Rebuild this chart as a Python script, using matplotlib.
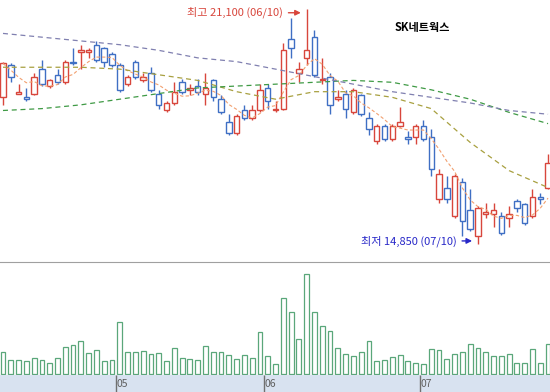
# SK네트웍스 일봉 차트 (캔들 + 이동평균 + 거래량)
import matplotlib.pyplot as plt
import numpy as np
import pandas as pd

plt.rcParams['font.family'] = ['Noto Sans CJK KR', 'DejaVu Sans']

# 시가, 고가, 저가, 종가 (원)
opens = [18750, 19600, 18850, 18750, 18850, 19500, 19050, 19350, 19150, 19700,
         19950, 19950, 20150, 20050, 19900, 19600, 19100, 19700, 19200, 19400,
         18850, 18400, 18600, 19150, 18950, 19050, 18850, 19200, 18700, 18100,
         17800, 18400, 18200, 18400, 19000, 18400, 18450, 20300, 19400, 19800,
         20350, 19200, 19300, 18700, 18850, 18350, 18800, 18200, 17600, 18000,
         17650, 18000, 17700, 17700, 18000, 17700, 16050, 16350, 15600, 16500,
         15750, 15050, 15650, 15650, 15600, 15550, 16000, 15900, 15600, 16100,
         16350]
highs = [19700, 19650, 19100, 19000, 19400, 19750, 19250, 19500, 19750, 20050,
         20150, 20050, 20250, 20100, 19950, 19650, 19350, 19750, 19400, 19550,
         18950, 18650, 19150, 19250, 19100, 19250, 19400, 19250, 18800, 18300,
         18300, 18550, 18550, 19100, 19100, 18650, 20200, 20850, 19700, 21100,
         20550, 19800, 19400, 18950, 18950, 19000, 18850, 18350, 18050, 18050,
         18050, 18500, 17850, 18050, 18150, 17900, 16850, 16650, 16700, 16600,
         16300, 15850, 15950, 15950, 15700, 15850, 16050, 15950, 16300, 16200,
         17250]
lows = [18550, 19150, 18850, 18650, 18800, 19050, 19000, 19100, 19100, 19600,
        19500, 19800, 19700, 19550, 19550, 18900, 19050, 19250, 19150, 18900,
        18450, 18350, 18550, 18850, 18800, 18800, 18550, 18650, 18300, 17750,
        17750, 18150, 18150, 18350, 18450, 18350, 18400, 19800, 19150, 19600,
        19300, 19100, 18300, 18650, 18200, 18300, 18250, 17750, 17500, 17600,
        17600, 17950, 17500, 17500, 17600, 16650, 15950, 15950, 15550, 15050,
        15200, 14850, 15550, 15300, 15100, 15300, 15700, 15350, 15550, 15900,
        16300]
closes = [19650, 19300, 18900, 18700, 19300, 19100, 19200, 19150, 19700, 19650,
          20000, 20000, 19750, 19700, 19600, 18950, 19300, 19300, 19300, 18950,
          18550, 18600, 18900, 18900, 19000, 18900, 19000, 18750, 18350, 17800,
          18250, 18200, 18400, 18950, 18650, 18450, 20000, 20050, 19500, 20000,
          19350, 19250, 18550, 18750, 18450, 18950, 18300, 17900, 18000, 17650,
          18000, 18100, 17650, 18000, 17650, 16850, 16700, 16050, 16650, 15450,
          15250, 15800, 15700, 15750, 15150, 15650, 15800, 15400, 16100, 16050,
          17000]
# 거래량 (천주)
volumes = [220, 140, 140, 130, 160, 140, 110, 160, 270, 290,
           330, 210, 240, 130, 140, 520, 220, 220, 230, 200,
           210, 130, 260, 160, 150, 140, 280, 220, 220, 190,
           150, 190, 160, 420, 180, 100, 760, 620, 350, 1000,
           620, 480, 430, 260, 200, 180, 220, 330, 130, 140,
           170, 190, 130, 110, 100, 250, 240, 150, 200, 220,
           300, 260, 220, 180, 180, 200, 110, 110, 250, 110,
           300]

# 장기 이동평균
ma_idx = [0, 5, 10, 15, 20, 25, 30, 35, 40, 45, 50, 55, 60, 65, 70]
ma20 = [19550, 19550, 19550, 19500, 19350, 19200, 18900, 18700, 18900, 18900,
        18750, 18450, 17550, 16800, 16350]
ma60 = [18400, 18450, 18550, 18700, 18850, 19000, 19050, 19100, 19150, 19200,
        19150, 18950, 18700, 18350, 18050]
ma120 = [20450, 20350, 20250, 20150, 20000, 19800, 19700, 19500, 19300, 19100,
         18900, 18750, 18600, 18400, 18300]

month_pos = [14.5, 33.5, 53.5]
month_labels = ['05', '06', '07']

RED = '#d8463c'
BLUE = '#3f6fc4'

fig = plt.figure(figsize=(5.5, 3.92), dpi=100)
ax = fig.add_axes([0, 1 - 261 / 392, 1, 261 / 392])
axv = fig.add_axes([0, 17 / 392, 1, 113 / 392])
axb = fig.add_axes([0, 0, 1, 17 / 392])

x = np.arange(len(closes))
o = np.array(opens)
c = np.array(closes)
colors = [RED if cc >= oo else BLUE for oo, cc in zip(o, c)]

# 캔들
ax.vlines(x, lows, highs, colors=colors, lw=1, zorder=2)
body = np.maximum(np.abs(c - o), 8)
ax.bar(x, body, bottom=np.minimum(o, c), width=0.7, facecolor='white',
       edgecolor=colors, linewidth=1, zorder=3)

# 이동평균선
ma5 = pd.Series(closes).rolling(5, min_periods=1).mean()
ax.plot(x, ma5, color='#f2a070', lw=0.8, ls=(0, (3, 2)), zorder=4)
ax.plot(ma_idx, ma20, color='#a8a040', lw=0.9, ls=(0, (4, 3)), zorder=4)
ax.plot(ma_idx, ma60, color='#3f9a45', lw=0.9, ls=(0, (4, 3)), zorder=4)
ax.plot(ma_idx, ma120, color='#8080b0', lw=0.9, ls=(0, (4, 3)), zorder=4)

xlim = (-0.385, 70.25)
ax.set_xlim(xlim)
ax.set_ylim(14396, 21339)
ax.axis('off')

# 최고/최저 표시
ax.text(36.0, 21000, '최고 21,100 (06/10)', ha='right', va='center',
        color=RED, fontsize=8)
ax.annotate('', xy=(38.6, 21000), xytext=(36.3, 21000),
            arrowprops=dict(arrowstyle='-|>', color=RED, lw=1, mutation_scale=8))
ax.text(58.3, 14930, '최저 14,850 (07/10)', ha='right', va='center',
        color='#2828c8', fontsize=8)
ax.annotate('', xy=(60.6, 14930), xytext=(58.6, 14930),
            arrowprops=dict(arrowstyle='-|>', color='#2828c8', lw=1, mutation_scale=8))
ax.text(53.9, 20620, 'SK네트웍스', ha='center', va='center',
        color='black', fontsize=8, fontweight='bold')

# 거래량
axv.bar(x, volumes, width=0.62, facecolor='white', edgecolor='#5aa77a', linewidth=0.9)
axv.set_xlim(xlim)
axv.set_ylim(-10, 1120)
axv.set_xticks([])
axv.set_yticks([])
for s in ['left', 'right']:
    axv.spines[s].set_visible(False)
axv.spines['top'].set_color('#a0a0a0')
axv.spines['bottom'].set_color('#909090')

# 월 표시 띠
axb.set_facecolor('#d8e2f0')
axb.set_xlim(xlim)
axb.set_ylim(0, 1)
axb.vlines(month_pos, 0, 1, colors='#707070', lw=1)
for p, lab in zip(month_pos, month_labels):
    axb.text(p + 0.12, 0.45, lab, ha='left', va='center', color='#606060', fontsize=7.5)
axb.set_xticks([])
axb.set_yticks([])
for s in axb.spines.values():
    s.set_visible(False)

fig.savefig('out.png', dpi=100)
